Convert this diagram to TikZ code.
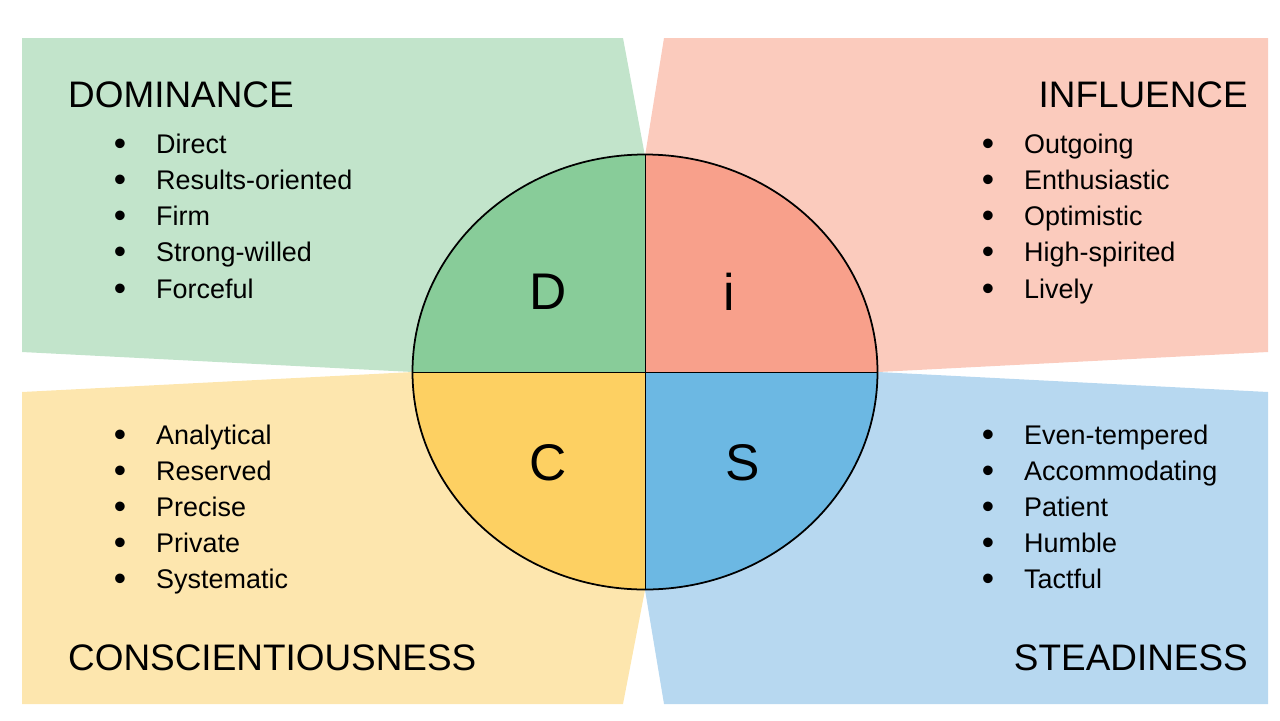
\documentclass[tikz,border=0pt]{standalone}
\usepackage{fontspec}
\setmainfont{Liberation Sans}
\definecolor{dlight}{HTML}{C2E4CB}
\definecolor{ilight}{HTML}{FBCBBD}
\definecolor{clight}{HTML}{FDE6AE}
\definecolor{slight}{HTML}{B7D8F0}
\definecolor{dfull}{HTML}{88CC99}
\definecolor{ifull}{HTML}{F8A08B}
\definecolor{cfull}{HTML}{FDD062}
\definecolor{sfull}{HTML}{6CB8E3}
\tikzset{
  title/.style={font=\fontsize{31.5}{31.5}\selectfont, inner sep=0pt},
  item/.style={font=\fontsize{23}{23}\selectfont, anchor=base west, inner sep=0pt},
  dot/.style={font=\fontsize{30}{30}\selectfont, anchor=base, inner sep=0pt},
  letter/.style={font=\fontsize{44}{44}\selectfont, inner sep=0pt}
}
\begin{document}
\begin{tikzpicture}[x=0.03cm,y=-0.03cm]
\useasboundingbox (0,0) rectangle (1280,720);
% quadrant panels
\fill[dlight] (22,38) -- (623,38) -- (645,156) -- (645,372) -- (413,372) -- (22,352) -- cycle;
\fill[ilight] (1268,38) -- (664,38) -- (645,156) -- (645,372) -- (878,372) -- (1268,352) -- cycle;
\fill[clight] (22,704) -- (623,704) -- (645,590) -- (645,372) -- (413,372) -- (22,392) -- cycle;
\fill[slight] (1268,704) -- (664,704) -- (645,590) -- (645,372) -- (878,372) -- (1268,392) -- cycle;
% circle
\coordinate (O) at (645,372);
\fill[dfull] (O) -- (413,372) arc[start angle=180, end angle=90, x radius=232, y radius=-217] -- cycle;
\fill[ifull] (O) -- (645,155) arc[start angle=90, end angle=0, x radius=233, y radius=-217] -- cycle;
\fill[cfull] (O) -- (413,372) arc[start angle=180, end angle=270, x radius=232, y radius=-218] -- cycle;
\fill[sfull] (O) -- (645,590) arc[start angle=270, end angle=360, x radius=233, y radius=-218] -- cycle;
\draw[line width=1.5pt] (O) ellipse[x radius=232.5, y radius=217.5];
\draw[line width=0.8pt] (413,372) -- (878,372) (645,155) -- (645,590);
\node[letter] (D) at (548,292) {D};
\node[letter] (i) at (729,292) {i};
\node[letter] (C) at (548,463) {C};
\node[letter] (S) at (743,463) {S};
% titles
\node[title, anchor=base west] (dom) at (68,107) {DOMINANCE};
\node[title, anchor=base east] (inf) at (1248,107) {INFLUENCE};
\node[title, anchor=base west] (con) at (68,670) {CONSCIENTIOUSNESS};
\node[title, anchor=base east] (ste) at (1248,670) {STEADINESS};
% lists
\foreach \t [count=\k] in {Direct,Results-oriented,Firm,Strong-willed,Forceful}
  {\node[dot] (dd\k) at (120,145+36.3*\k-36.3+10) {•};
   \node[item] (dt\k) at (156,145+36.3*\k-36.3+8) {\t};}
\foreach \t [count=\k] in {Outgoing,Enthusiastic,Optimistic,High-spirited,Lively}
  {\node[dot] (id\k) at (988,145+36.3*\k-36.3+10) {•};
   \node[item] (it\k) at (1024,145+36.3*\k-36.3+8) {\t};}
\foreach \t [count=\k] in {Analytical,Reserved,Precise,Private,Systematic}
  {\node[dot] (cd\k) at (120,436+36.1*\k-36.1+10) {•};
   \node[item] (ct\k) at (156,436+36.1*\k-36.1+8) {\t};}
\foreach \t [count=\k] in {Even-tempered,Accommodating,Patient,Humble,Tactful}
  {\node[dot] (sd\k) at (988,436+36.1*\k-36.1+10) {•};
   \node[item] (st\k) at (1024,436+36.1*\k-36.1+8) {\t};}
\end{tikzpicture}
\end{document}
